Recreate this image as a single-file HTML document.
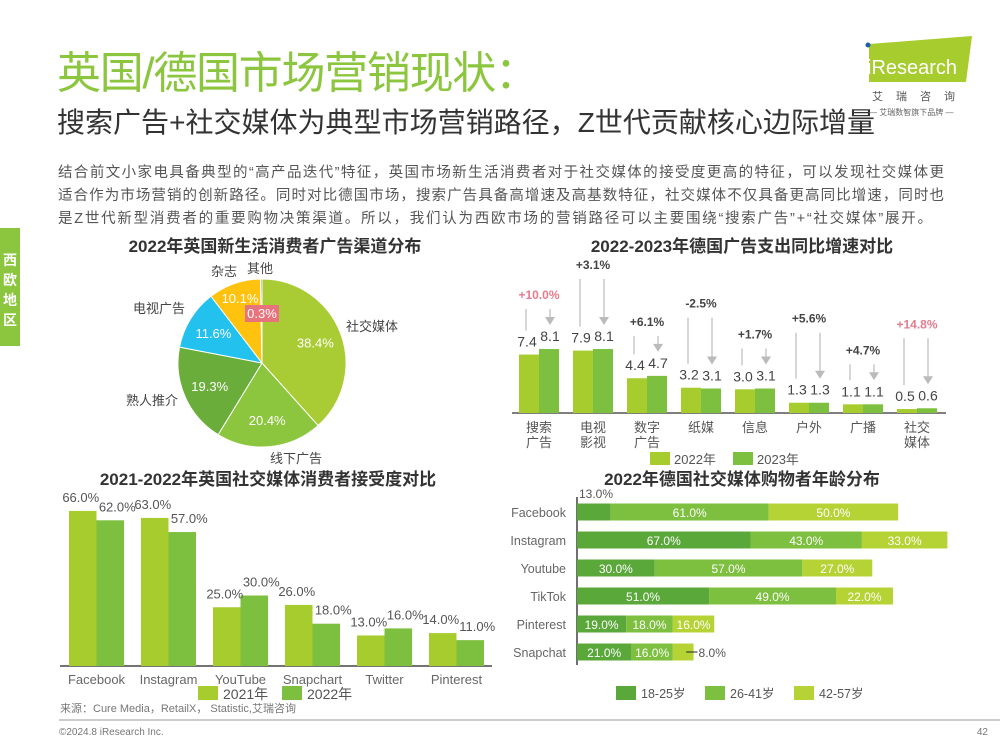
<!DOCTYPE html>
<html><head><meta charset="utf-8">
<style>
body{margin:0;background:#fff;}
svg{display:block;font-family:"Liberation Sans","Noto Sans CJK SC",sans-serif;}
</style></head>
<body>
<svg id="s" width="1000" height="750" viewBox="0 0 1000 750" xmlns="http://www.w3.org/2000/svg">
<text x="57" y="88" font-size="44" fill="#8cc63f" textLength="482">英国/德国市场营销现状：</text>
<text x="57" y="132" font-size="28" fill="#333" textLength="818">搜索广告+社交媒体为典型市场营销路径，Z世代贡献核心边际增量</text>
<g font-size="14.5" fill="#555">
<text x="58" y="177" textLength="886">结合前文小家电具备典型的“高产品迭代”特征，英国市场新生活消费者对于社交媒体的接受度更高的特征，可以发现社交媒体更</text>
<text x="58" y="200" textLength="886">适合作为市场营销的创新路径。同时对比德国市场，搜索广告具备高增速及高基数特征，社交媒体不仅具备更高同比增速，同时也</text>
<text x="58" y="223" textLength="874">是Z世代新型消费者的重要购物决策渠道。所以，我们认为西欧市场的营销路径可以主要围绕“搜索广告”+“社交媒体”展开。</text>
</g>
<g>
<polygon points="869,44 972,36 966,82 869,82" fill="#a6cc2e"/>
<circle cx="868" cy="45" r="2.5" fill="#1a5fa8"/>
<text x="867" y="74" font-size="20" fill="#fff">iResearch</text>
<text x="872" y="100" font-size="11" fill="#555" letter-spacing="13">艾瑞咨询</text>
<text x="869" y="115" font-size="8" fill="#666">— 艾瑞数智旗下品牌 —</text>
</g>
<rect x="0" y="228" width="20" height="118" fill="#8cc63f"/>
<g font-size="14" fill="#fff" font-weight="bold">
<text x="3" y="265">西</text><text x="3" y="285">欧</text><text x="3" y="305">地</text><text x="3" y="325">区</text>
</g>

<text x="275" y="252" font-size="17" font-weight="bold" fill="#333" text-anchor="middle">2022年英国新生活消费者广告渠道分布</text>
<g id="pie"></g>

<text x="742" y="252" font-size="17" font-weight="bold" fill="#333" text-anchor="middle">2022-2023年德国广告支出同比增速对比</text>
<g id="gbar"></g>

<text x="268" y="485" font-size="17" font-weight="bold" fill="#333" text-anchor="middle">2021-2022年英国社交媒体消费者接受度对比</text>
<g id="ubar"></g>

<text x="742" y="485" font-size="17" font-weight="bold" fill="#333" text-anchor="middle">2022年德国社交媒体购物者年龄分布</text>
<g id="sbar"></g>

<text x="60" y="712" font-size="11" fill="#777">来源：Cure Media，RetailX， Statistic,艾瑞咨询</text>
<line x1="59" y1="720" x2="1000" y2="720" stroke="#999" stroke-width="1"/>
<text x="59" y="735" font-size="10" fill="#777">©2024.8 iResearch Inc.</text>
<text x="988" y="735" font-size="10" fill="#777" text-anchor="end">42</text>
</svg>
<script>
const NS="http://www.w3.org/2000/svg";
function mk(p,tag,a,txt){const e=document.createElementNS(NS,tag);for(const k in a)e.setAttribute(k,a[k]);if(txt!==undefined)e.textContent=txt;p.appendChild(e);return e;}

// ---- Pie data
const pieCats=["社交媒体","线下广告","熟人推介","电视广告","杂志","其他"];
const pieVals=[38.4,20.4,19.3,11.6,10.1,0.3];
const pieColors=["#a9cc34","#8cc63f","#6aad3b","#22c1ee","#ffc20e","#e8737d"];
// ---- Germany ad data
const gCats=[["搜索","广告"],["电视","影视"],["数字","广告"],["纸媒"],["信息"],["户外"],["广播"],["社交","媒体"]];
const g2022=[7.4,7.9,4.4,3.2,3.0,1.3,1.1,0.5];
const g2023=[8.1,8.1,4.7,3.1,3.1,1.3,1.1,0.6];
const gGrowth=["+10.0%","+3.1%","+6.1%","-2.5%","+1.7%","+5.6%","+4.7%","+14.8%"];
const gHighlight=[true,false,false,false,false,false,false,true];
// ---- UK social data
const uCats=["Facebook","Instagram","YouTube","Snapchart","Twitter","Pinterest"];
const u2021=[66,63,25,26,13,14];
const u2022=[62,57,30,18,16,11];
// ---- Age stacked data
const sCats=["Facebook","Instagram","Youtube","TikTok","Pinterest","Snapchat"];
const sA=[13,67,30,51,19,21];
const sB=[61,43,57,49,18,16];
const sC=[50,33,27,22,16,8];
const sSeries=["18-25岁","26-41岁","42-57岁"];

// Pie
(function(){
 const g=document.getElementById('pie');const cx=262,cy=363,r=84;
 const tot=pieVals.reduce((a,b)=>a+b,0);let a0=-Math.PI/2;
 pieVals.forEach((v,i)=>{
  const a1=a0+v/tot*2*Math.PI;const large=(a1-a0)>Math.PI?1:0;
  const p=mk(g,'path',{d:`M${cx},${cy}L${cx+r*Math.cos(a0)},${cy+r*Math.sin(a0)}A${r},${r} 0 ${large} 1 ${cx+r*Math.cos(a1)},${cy+r*Math.sin(a1)}Z`,fill:pieColors[i],stroke:'#fff','stroke-width':1});
  
  
  const m=(a0+a1)/2;let lr=r*0.68,lx=cx+lr*Math.cos(m),ly=cy+lr*Math.sin(m)+5;
  if(i===5){lx=cx;ly=cy-45;const bg=mk(g,'rect',{x:lx-17,y:ly-13,width:34,height:17,fill:'#e8737d'});}
  if(i===4){lx=cx-22;ly=cy-60;}
  const t=mk(g,'text',{x:lx,y:ly,'font-size':13,fill:'#fff','text-anchor':'middle'},v.toFixed(1)+'%');
  
  
  a0=a1;
 });
 const names=[[346,331,'start'],[270,463,'start'],[178,405,'end'],[185,313,'end'],[224,276,'middle'],[260,273,'middle']];
 names.forEach((n,i)=>{const t=mk(g,'text',{x:n[0],y:n[1],'font-size':13,fill:'#444','text-anchor':n[2]},pieCats[i]);
  
  });
})();

// Germany bars
(function(){
 const g=document.getElementById('gbar');const base=413,x0=512,step=54,bw=20,k=7.9;
 const y=v=>base-v*k;
 mk(g,'line',{x1:x0,y1:base,x2:946,y2:base,stroke:'#333','stroke-width':1.2});
 g2022.forEach((v,i)=>{
  const gx=x0+7+i*step;
  const b1=mk(g,'rect',{x:gx,y:y(v),width:bw,height:v*k,fill:'#a6cc2e'});
  
  
  const v2=g2023[i];
  const b2=mk(g,'rect',{x:gx+bw,y:y(v2),width:bw,height:v2*k,fill:'#7dbf3e'});
  
  
  const l1=mk(g,'text',{x:gx+bw/2-2,y:y(v)-8,'font-size':14,fill:'#444','text-anchor':'middle'},v.toFixed(1));
  
  const l2=mk(g,'text',{x:gx+bw*1.5+1,y:y(v2)-8,'font-size':14,fill:'#444','text-anchor':'middle'},v2.toFixed(1));
  
  const top=Math.min(y(v),y(v2));const ly=top-(i%2?80:50);
  const pt=mk(g,'text',{x:gx+bw,y:ly,'font-size':12,'font-weight':'bold',fill:gHighlight[i]?'#e57b8c':'#444','text-anchor':'middle'},gGrowth[i]);
  
  mk(g,'line',{x1:gx+bw/2-3,y1:ly+10,x2:gx+bw/2-3,y2:y(v)-24,stroke:'#bbb','stroke-width':1.2});
  mk(g,'line',{x1:gx+bw*1.5+1,y1:ly+10,x2:gx+bw*1.5+1,y2:y(v2)-28,stroke:'#bbb','stroke-width':1.2});
  const ax=gx+bw*1.5+1,ay=y(v2)-24;
  mk(g,'polygon',{points:`${ax-5},${ay-8} ${ax+5},${ay-8} ${ax},${ay}`,fill:'#bbb'});
  gCats[i].forEach((c,j)=>{const t=mk(g,'text',{x:gx+bw,y:432+j*15,'font-size':13,fill:'#555','text-anchor':'middle'},c);
   });
 });
 [['#a6cc2e','2022年',650],['#7dbf3e','2023年',733]].forEach(l=>{
  const r=mk(g,'rect',{x:l[2],y:452,width:20,height:13,fill:l[0]});
  const t=mk(g,'text',{x:l[2]+24,y:464,'font-size':13,fill:'#555'},l[1]);
 });
})();

// UK social bars
(function(){
 const g=document.getElementById('ubar');const base=666,x0=60,step=72,bw=27.5,k=2.35;
 const y=v=>base-v*k;
 mk(g,'line',{x1:x0,y1:base,x2:492,y2:base,stroke:'#222','stroke-width':1.2});
 u2021.forEach((v,i)=>{
  const gx=x0+9+i*step;const v2=u2022[i];
  const b1=mk(g,'rect',{x:gx,y:y(v),width:bw,height:v*k,fill:'#a6cc2e'});
  
  
  const b2=mk(g,'rect',{x:gx+bw,y:y(v2),width:bw,height:v2*k,fill:'#7dbf3e'});
  
  
  mk(g,'text',{x:gx+bw/2-2,y:y(v)-9,'font-size':13,fill:'#555','text-anchor':'middle'},v.toFixed(1)+'%');
  mk(g,'text',{x:gx+bw*1.5+7,y:y(v2)-9,'font-size':13,fill:'#555','text-anchor':'middle'},v2.toFixed(1)+'%');
  mk(g,'text',{x:gx+bw,y:684,'font-size':13,fill:'#666','text-anchor':'middle'},uCats[i]);
 });
 [['#a6cc2e','2021年',198],['#7dbf3e','2022年',282]].forEach(l=>{
  const r=mk(g,'rect',{x:l[2],y:686,width:20,height:14,fill:l[0]});
  const t=mk(g,'text',{x:l[2]+25,y:699,'font-size':14,fill:'#555'},l[1]);
 });
})();

// Age stacked bars
(function(){
 const g=document.getElementById('sbar');const x0=577,k=2.59,y0=512,step=28,bh=17;
 const cols=['#5aa83a','#7dbf3e','#b5d334'];
 mk(g,'line',{x1:x0,y1:497,x2:x0,y2:665,stroke:'#111','stroke-width':1.2});
 sCats.forEach((c,i)=>{
  const cy=y0+i*step;const vals=[sA[i],sB[i],sC[i]];let x=x0;
  mk(g,'text',{x:566,y:cy+5,'font-size':12.5,fill:'#666','text-anchor':'end'},c);
  vals.forEach((v,j)=>{
   const r=mk(g,'rect',{x:x,y:cy-bh/2,width:v*k,height:bh,fill:cols[j]});
   
   
   const lab=v.toFixed(1)+'%';
   if(i===0&&j===0){mk(g,'text',{x:x+2,y:cy-14,'font-size':12,fill:'#555'},lab);}
   else if(v*k<30){mk(g,'line',{x1:x+v*k/2+3,y1:cy,x2:x+v*k+4,y2:cy,stroke:'#222'});
    mk(g,'text',{x:x+v*k+5,y:cy+5,'font-size':12,fill:'#555'},lab);}
   else{mk(g,'text',{x:x+v*k/2,y:cy+5,'font-size':12,fill:'#fff','text-anchor':'middle'},lab);}
   x+=v*k;
  });
 });
 [616,705,794].forEach((lx,j)=>{
  const r=mk(g,'rect',{x:lx,y:686,width:20,height:14,fill:cols[j]});
  const t=mk(g,'text',{x:lx+25,y:698,'font-size':12.5,fill:'#555'},sSeries[j]);
 });
})();
</script>
</body></html>
